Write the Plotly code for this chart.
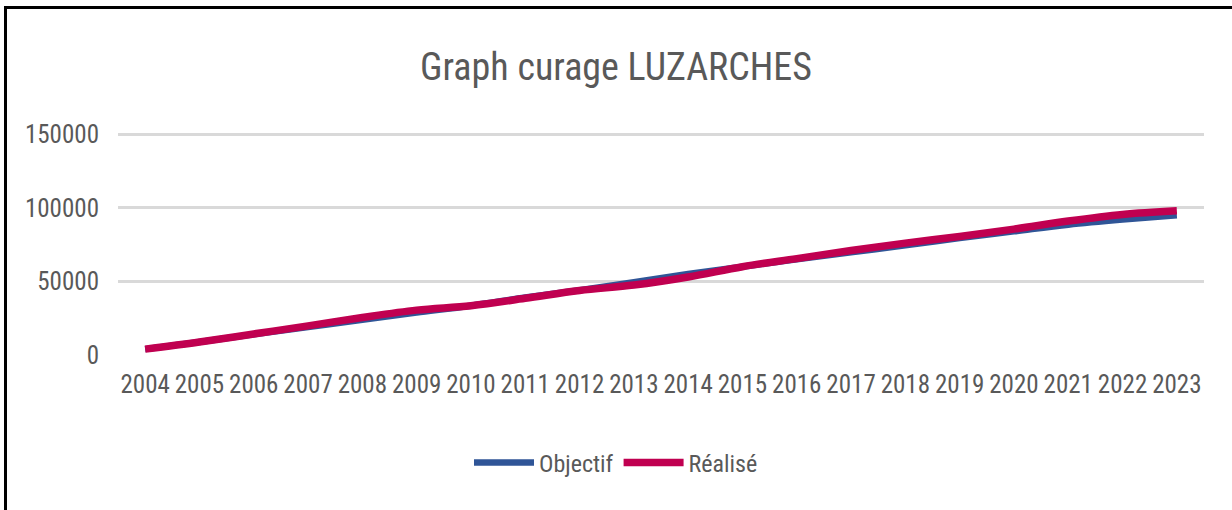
import plotly.graph_objects as go

years = [str(y) for y in range(2004, 2024)]
objectif = [4000, 8800, 14000, 19000, 24000, 28800, 33500, 39000, 44000, 49500,
            55000, 60000, 65000, 69800, 74500, 79500, 84000, 88500, 92000, 95000]
realise = [4000, 8800, 14300, 19800, 25500, 30500, 33500, 38500, 43800, 47500,
           53000, 60000, 65500, 71000, 76000, 80500, 85500, 91000, 95500, 98000]
y_ticks = [0, 50000, 100000, 150000]

FONT = "Liberation Sans Narrow, Roboto Condensed, Arial Narrow, sans-serif"
GREY = "#595959"

L, R, T, B = 118, 28, 132, 155
PW, PH = 1232 - L - R, 510 - T - B


def px_x(px):
    return (px - L) / PW


def px_y(py):
    return (510 - B - py) / PH


fig = go.Figure()
fig.add_trace(go.Scatter(x=years, y=objectif, name="Objectif", mode="lines",
                         line=dict(color="#2F5597", width=6.5, shape="spline")))
fig.add_trace(go.Scatter(x=years, y=realise, name="Réalisé", mode="lines",
                         line=dict(color="#C00050", width=7.5, shape="spline")))

fig.update_layout(
    width=1232, height=510,
    margin=dict(l=L, r=R, t=T, b=B),
    paper_bgcolor="white", plot_bgcolor="white",
    font=dict(family=FONT, color=GREY, size=24),
    title=dict(text="Graph curage LUZARCHES", x=0.5, xanchor="center",
               y=1 - 67 / 510, yanchor="middle", yref="container",
               font=dict(family=FONT, size=38, color=GREY)),
    xaxis=dict(type="category", range=[-0.5, 19.5], showgrid=False,
               showline=False, zeroline=False, ticks="",
               tickfont=dict(size=25, color=GREY), ticklabelstandoff=12),
    yaxis=dict(range=[0, 151500], tickvals=y_ticks,
               ticktext=[str(v) for v in y_ticks],
               showgrid=True, gridcolor="#D9D9D9", gridwidth=3,
               zeroline=False, showline=False, ticks="",
               tickfont=dict(size=25, color=GREY), ticklabelstandoff=18),
    legend=dict(orientation="h", xref="container", x=0.5, xanchor="center",
                yref="container", y=1 - 463 / 510, yanchor="middle",
                font=dict(size=24, color=GREY), itemwidth=60),
    showlegend=True,
)

# Frame: top and left edges only
fig.add_shape(type="line", xref="paper", yref="paper",
              x0=px_x(5.5), x1=px_x(1240), y0=px_y(7.5), y1=px_y(7.5),
              line=dict(color="black", width=3), layer="above")
fig.add_shape(type="line", xref="paper", yref="paper",
              x0=px_x(5.5), x1=px_x(5.5), y0=px_y(6), y1=px_y(520),
              line=dict(color="black", width=3), layer="above")

fig.write_html("out.html",
               config={"displayModeBar": False},
               post_script="document.body.style.margin='0px';document.body.style.padding='0px';")
